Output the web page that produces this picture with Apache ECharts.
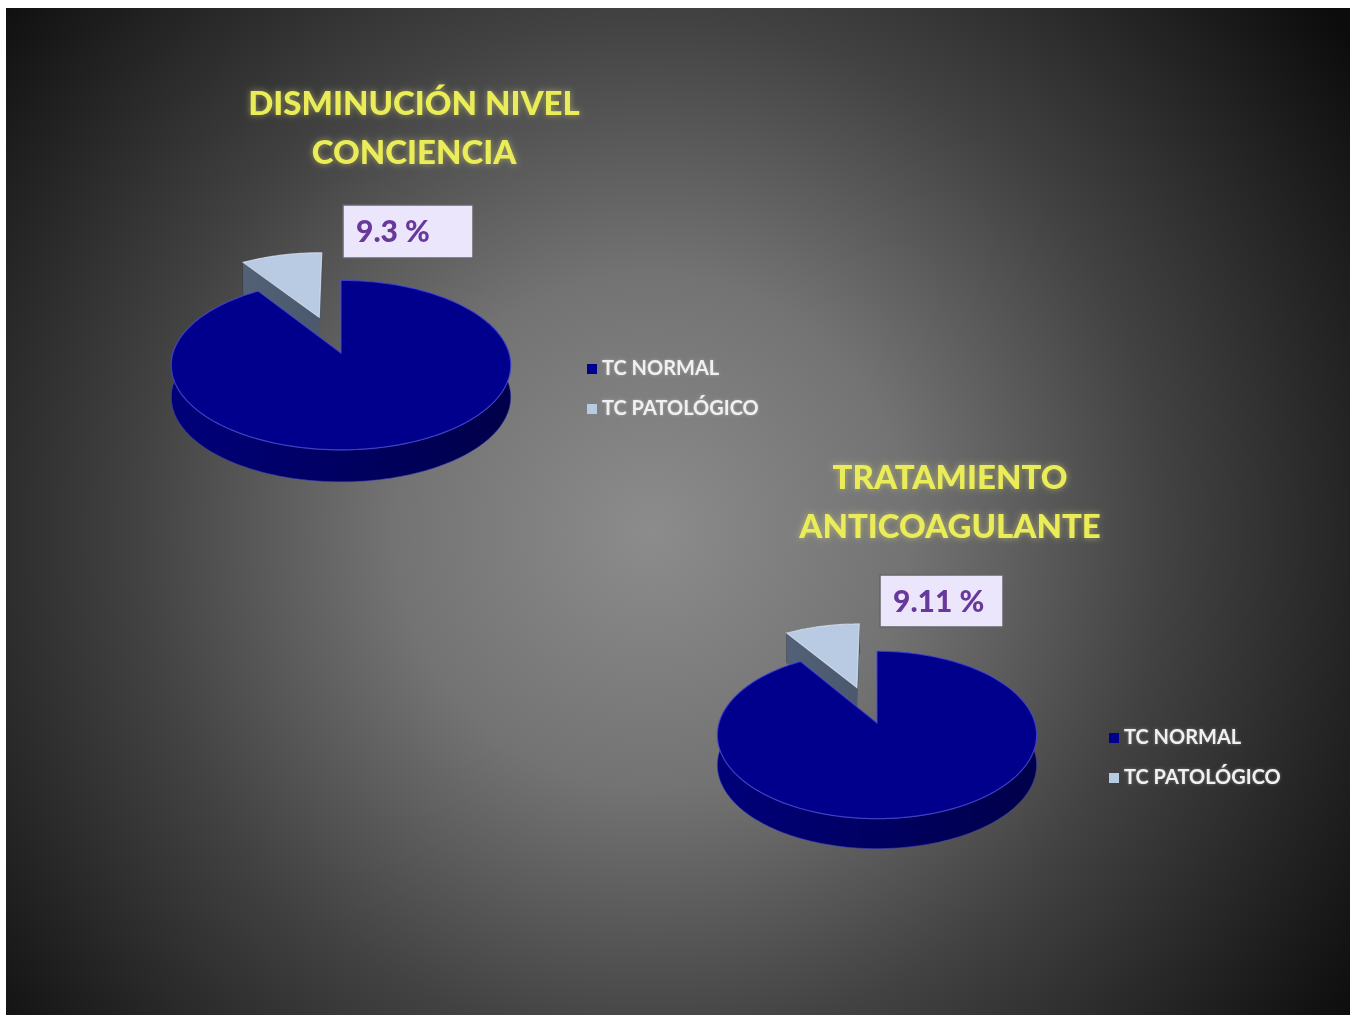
<!DOCTYPE html>
<html><head><meta charset="utf-8">
<script src="https://cdn.jsdelivr.net/npm/echarts@6/dist/echarts.min.js"></script>
<style>html,body{margin:0;padding:0;background:#fff;}#c{width:1355px;height:1019px;}</style>
</head><body><div id="c"></div>
<script>
// ---- data ----
const categories = ['TC NORMAL', 'TC PATOLÓGICO'];
const concienciaValues = [90.7, 9.3];
const anticoagValues = [90.89, 9.11];
const chartTitles = ['DISMINUCIÓN NIVEL\nCONCIENCIA', 'TRATAMIENTO\nANTICOAGULANTE'];

// ---- styles / layout ----
const topColors = ['#00008c', '#b8cbe2'];
const sideColors = [['#00007a', '#00004a'], ['#5a697e', '#37435a']];
const pies = [
  {values: concienciaValues, cx: 341, cy: 353, rx: 168, ry: 83, depth: 32, D: 7, explode: [0, 0.48], z: [3, 2],
   label: {dx: 2, dy: -148, w: 130, h: 53}},
  {values: anticoagValues, cx: 877, cy: 723, rx: 158, ry: 82, depth: 30, D: 7, explode: [0, 0.48], z: [3, 2],
   label: {dx: 3, dy: -148, w: 123, h: 52}}
];

function makeRender(pie, j) {
  return function (params, api) {
    const v = api.value(0);
    const total = pie.values.reduce((a, b) => a + b, 0);
    let before = 0;
    for (let k = 0; k < j; k++) before += pie.values[k];
    const a0 = before / total * Math.PI * 2, a1 = (before + v) / total * Math.PI * 2;
    const am = (a0 + a1) / 2, e = pie.explode[j];
    const ex = e * Math.sin(am), ez = e * Math.cos(am);
    const proj = (X, Z) => { const p = pie.D / (pie.D + Z); return [pie.cx + X * pie.rx * p, pie.cy - Z * pie.ry * p]; };
    const apex = proj(ex, ez);
    const arc = [];
    const n = Math.max(4, Math.ceil((a1 - a0) / (Math.PI / 180)));
    for (let i = 0; i <= n; i++) {
      const a = a0 + (a1 - a0) * i / n;
      arc.push(proj(ex + Math.sin(a), ez + Math.cos(a)));
    }
    const d = pie.depth;
    const dn = p => [p[0], p[1] + d];
    const sideFill = new echarts.graphic.LinearGradient(pie.cx - pie.rx, 0, pie.cx + pie.rx, 0,
      [{offset: 0, color: sideColors[j][0]}, {offset: 1, color: sideColors[j][1]}], true);
    const band = arc.concat(arc.slice().reverse().map(dn));
    const children = [];
    children.push({type: 'polygon', shape: {points: band}, style: {fill: sideFill, stroke: j === 0 ? 'rgba(70,70,190,0.55)' : 'rgba(40,50,70,0.6)', lineWidth: 1}, z2: 0});
    const first = arc[0], last = arc[arc.length - 1];
    children.push({type: 'polygon', shape: {points: [apex, first, dn(first), dn(apex)]}, style: {fill: sideFill}, z2: 1});
    children.push({type: 'polygon', shape: {points: [apex, last, dn(last), dn(apex)]}, style: {fill: sideFill}, z2: 1});
    children.push({type: 'polygon', shape: {points: [apex].concat(arc)},
      style: {fill: topColors[j], stroke: j === 0 ? 'rgba(80,80,215,0.7)' : 'rgba(215,225,240,0.8)', lineWidth: 1.2}, z2: 2});
    if (j === 1) {
      const L = pie.label;
      children.push({type: 'rect', shape: {x: pie.cx + L.dx, y: pie.cy + L.dy, width: L.w, height: L.h},
        style: {fill: '#ebe6fc', stroke: '#666', lineWidth: 1.5}, z2: 10});
      children.push({type: 'text', style: {text: v + ' %', x: pie.cx + L.dx + 13, y: pie.cy + L.dy + L.h / 2 + 1,
        align: 'left', verticalAlign: 'middle', fill: '#68399a', font: '900 30px Lato'}, z2: 11});
    }
    return {type: 'group', children: children};
  };
}

const series = [];
pies.forEach(pie => {
  categories.forEach((name, j) => {
    series.push({
      type: 'custom', name: name, coordinateSystem: 'none', silent: true,
      z: pie.z[j],
      itemStyle: {color: topColors[j]},
      data: [[pie.values[j]]],
      renderItem: makeRender(pie, j)
    });
  });
});

const titleStyle = {color: '#eaec58', fontFamily: 'Lato', fontWeight: 900, fontSize: 33, lineHeight: 49,
  textShadowColor: 'rgba(240,240,120,0.5)', textShadowBlur: 6};
const legendText = {color: '#f0f0f0', fontFamily: 'Lato', fontWeight: 'bold', fontSize: 20, lineHeight: 20,
  textShadowColor: 'rgba(255,255,255,0.35)', textShadowBlur: 3};

const chart = echarts.init(document.getElementById('c'), null, {renderer: 'canvas'});
chart.setOption({
  animation: false,
  backgroundColor: '#ffffff',
  graphic: [{
    type: 'rect', z: -10, silent: true,
    shape: {x: 6, y: 8, width: 1344, height: 1007},
    style: {fill: new echarts.graphic.RadialGradient(0.48, 0.52, 0.85, [
      {offset: 0, color: '#8c8c8c'}, {offset: 0.3, color: '#737373'},
      {offset: 0.6, color: '#424242'}, {offset: 1, color: '#0c0c0c'}])}
  }],
  title: [
    {text: chartTitles[0], left: 414, top: 80, textAlign: 'center', padding: 0, textStyle: titleStyle},
    {text: chartTitles[1], left: 950, top: 454, textAlign: 'center', padding: 0, textStyle: titleStyle}
  ],
  legend: [
    {data: categories, orient: 'vertical', left: 587, top: 359, padding: 0, itemWidth: 10, itemHeight: 10, itemGap: 20,
     icon: 'rect', selectedMode: false, textStyle: legendText},
    {data: categories, orient: 'vertical', left: 1109, top: 728, padding: 0, itemWidth: 10, itemHeight: 10, itemGap: 20,
     icon: 'rect', selectedMode: false, textStyle: legendText}
  ],
  series: series
});
</script></body></html>
